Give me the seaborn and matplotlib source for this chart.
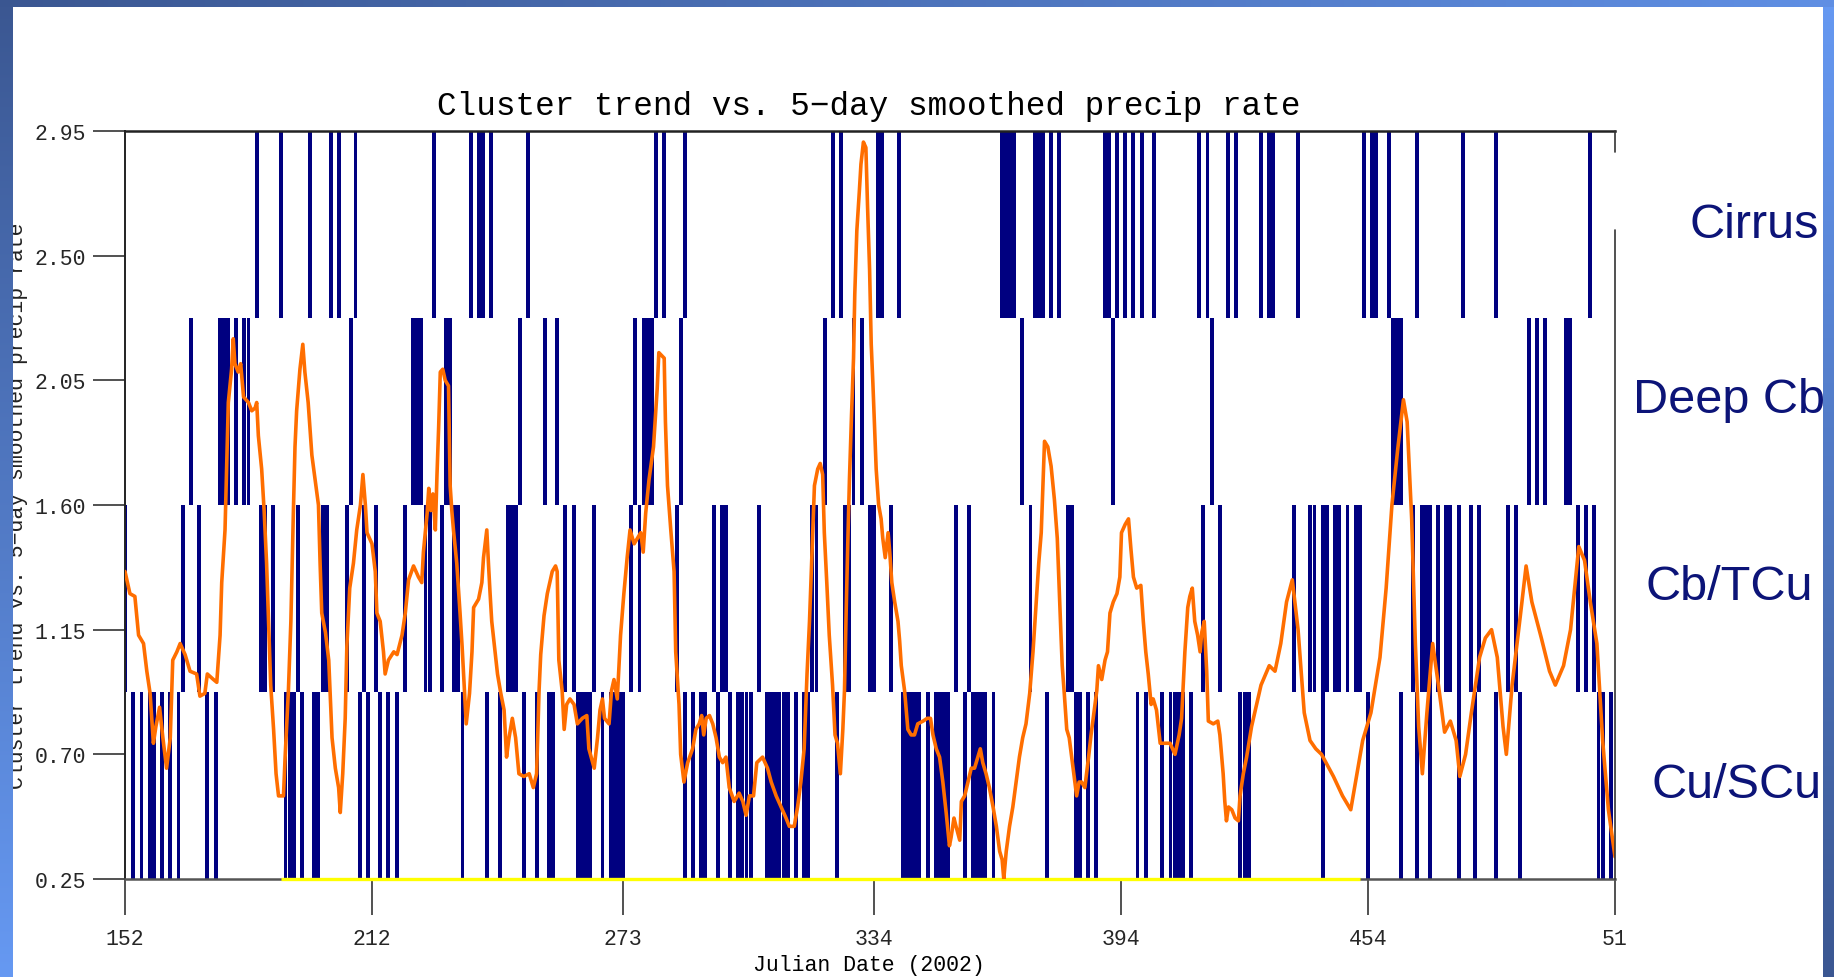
import numpy as np
import pandas as pd
import matplotlib
matplotlib.use("Agg")
import matplotlib.pyplot as plt
import seaborn as sns

# ---------------------------------------------------------------- data
# Day on which each cluster regime was observed (Julian day, continuing past 365)
cu_scu_days = [154, 156, 158, 159, 161, 163, 165, 172, 174, 191, 192, 193, 195,
               198, 199, 209, 211, 214, 216, 218, 234, 240, 243,
               249, 252, 255, 256, 262, 263, 264, 265, 268, 270, 271, 272, 273, 288,
               290, 292, 293, 296, 299, 301, 302, 303, 304, 308, 309, 310, 311, 312,
               313, 315, 317, 318, 325,
               341, 342, 343, 344, 345, 347, 349, 350, 351, 352, 356, 358, 359, 360,
               361, 363, 376,
               383, 384, 386, 388, 398, 400, 404, 406, 407, 408, 409, 411, 423, 424,
               425, 443, 454, 462, 466, 469, 476, 480, 485, 491, 510, 511, 513]
cb_tcu_days = [152, 166, 170, 185, 186, 188, 194,
               200, 201, 206, 210, 213, 220, 225, 226, 229, 232, 233,
               245, 246, 247, 259, 261, 266, 275, 277, 286,
               295, 297, 298, 306, 319, 320, 327, 328,
               333, 334, 338, 354, 357, 372,
               381, 382, 414, 418,
               436, 440, 441, 443, 444, 446, 447, 449, 451, 452,
               465, 467, 468, 469, 471, 473, 474, 476, 479, 481, 488, 490,
               505, 507, 509]
deep_cb_days = [168, 175, 176, 177, 179, 181, 182,
                207, 222, 223, 224, 230, 231,
                248, 254, 257, 276, 278, 279, 280, 287,
                322, 329, 331,
                370, 392, 416,
                460, 461, 462, 493, 495, 497, 502, 503]
cirrus_days = [184, 190, 197, 202, 204, 208, 227, 236, 238, 239, 241,
               250, 281, 283, 288, 324, 326,
               335, 336, 340, 365, 366, 367, 368, 373, 374, 375, 377, 379,
               390, 391, 393, 395, 397, 399, 402, 413, 415, 420, 422,
               428, 430, 431, 437, 453, 455, 456, 459, 466, 477, 485, 508]

cluster_names = ["Cu/SCu", "Cb/TCu", "Deep Cb", "Cirrus"]
band_edges = [0.25, 0.925, 1.60, 2.275, 2.95]

# 5-day smoothed precipitation rate
precip_day = [
    152.0, 153.2, 154.4, 155.3, 156.5, 157.3, 158.1, 158.9, 159.5, 160.4, 161.2, 162.1,
    163.0, 163.6, 164.6, 165.4, 166.6, 167.8, 169.4, 170.2, 171.4, 172.0, 173.5, 174.3,
    175.1, 175.5, 176.3, 176.7, 177.1, 177.9, 178.3, 178.7, 179.5, 180.1, 180.8, 182.0,
    182.8, 183.6, 184.0, 184.4, 185.2, 185.8, 186.4, 186.8, 187.4, 188.1, 188.7, 189.3,
    190.5, 190.9, 191.7, 192.3, 192.9, 193.3, 193.7, 194.5, 195.2, 195.7, 196.5, 197.4,
    198.2, 199.0, 199.4, 199.8, 200.7, 201.5, 201.9, 202.3, 203.1, 203.9, 204.3, 204.9,
    205.5, 205.9, 206.6, 207.5, 208.3, 209.2, 209.8, 210.4, 210.8, 212.0, 212.8, 213.2,
    214.0, 214.8, 215.2, 216.0, 217.3, 218.1, 219.3, 220.1, 220.9, 222.1, 223.3, 224.1,
    224.5, 225.4, 225.8, 226.3, 226.8, 227.4, 227.8, 228.2, 228.6, 229.2, 229.8, 230.6,
    231.0, 231.4, 231.8, 232.6, 233.4, 233.9, 234.4, 234.9, 235.7, 236.3, 236.7, 237.9,
    238.7, 239.1, 239.9, 240.3, 240.7, 241.1,
    242.5, 243.3, 244.1, 244.7, 245.3, 246.1, 246.9, 247.7, 248.9, 250.2, 251.2, 252.0,
    252.6, 253.0, 253.8, 254.6, 255.8, 256.6, 257.0, 257.4, 258.2, 258.7, 259.3, 260.1,
    261.1, 261.9, 263.1, 264.2, 264.7, 266.0, 266.8, 267.4, 268.0, 268.5, 269.6, 270.2,
    270.8, 271.6, 272.4, 273.2, 274.0, 274.7, 275.7, 277.3, 277.9, 278.5, 279.3, 280.4,
    281.3, 281.7, 283.0, 283.3, 283.8, 284.6, 285.4, 285.8, 286.6, 287.0, 287.8,
    288.7, 289.9, 290.7, 291.5, 292.1, 292.6, 293.2, 294.0, 294.8, 295.6, 296.4, 297.2,
    298.0, 298.8, 300.0, 301.2, 302.1, 302.9, 303.7, 304.7, 305.5, 306.9, 308.1, 309.0,
    310.2, 311.4, 312.6, 313.4, 314.6, 315.4, 316.2, 317.0, 317.7, 318.3, 318.7, 319.1,
    319.5, 320.3, 320.9, 321.5, 321.9, 322.5, 323.1, 323.9, 324.5, 325.1, 325.8, 326.4,
    326.8, 327.2, 327.6, 328.0, 328.5, 329.0, 329.3, 329.8, 330.4, 330.8, 331.4, 332.0,
    332.4, 332.9, 333.3, 333.7, 334.1, 334.5, 335.1, 335.7, 336.1, 336.7, 337.4, 337.8,
    338.3, 339.0, 339.8, 340.2, 340.6, 341.4, 342.2, 343.0, 343.8, 344.6, 345.9, 346.9,
    347.7, 348.3, 349.1, 349.9, 350.7, 351.5, 352.3, 352.7, 353.4, 353.9, 354.8, 355.2,
    356.0, 356.8, 357.6, 358.4, 359.2, 359.8, 360.4, 361.2, 362.0, 362.9, 363.7, 364.5,
    365.1, 365.5, 366.1, 366.9, 367.7, 368.5, 369.3, 370.1, 370.9, 371.8, 372.6, 373.4,
    374.0, 374.6, 375.0, 375.4, 376.2, 377.0, 377.8, 378.5,
    378.9, 379.4, 379.7, 380.2, 380.8, 381.4, 382.0, 382.6, 383.2, 383.8, 384.4, 385.2,
    386.1, 386.7, 387.5, 388.1, 388.5, 389.3, 390.1, 390.7, 391.3, 392.1, 393.0, 393.7,
    394.1, 395.0, 395.8, 396.4, 397.0, 397.8, 398.8, 399.4, 400.0, 400.6, 401.3, 401.8,
    402.6, 403.5, 404.7, 405.9, 407.1, 408.1, 408.7, 409.5, 410.2, 410.7, 411.3, 411.9,
    412.6, 413.2, 413.6, 414.2, 414.8, 415.2, 416.4, 417.5, 418.0, 418.8, 419.2, 419.6,
    420.1, 420.9, 421.7, 422.5, 422.9, 423.7, 424.5,
    425.7, 428.0, 430.0, 431.4, 432.8, 434.2, 435.6, 437.0, 438.5, 439.9, 441.3, 442.7,
    445.6, 447.8, 449.8, 451.2, 452.7, 454.7, 456.9, 458.4, 459.8, 461.2, 462.6, 463.5,
    464.6, 465.5, 466.3, 467.2, 468.3, 469.7, 471.1, 472.6, 474.0, 475.4, 476.3, 477.7,
    479.1, 481.1, 482.5, 484.0, 485.4, 486.8, 487.6, 489.0, 491.0, 492.4, 493.8, 496.1,
    498.1, 499.5, 501.5, 503.2, 505.2, 506.6, 508.0, 509.6, 511.0, 512.4, 514.0]
precip_rate = [
    1.36, 1.28, 1.27, 1.13, 1.10, 1.00, 0.92, 0.74, 0.80, 0.87, 0.76, 0.65,
    0.76, 1.04, 1.07, 1.10, 1.06, 1.00, 0.99, 0.91, 0.92, 0.99, 0.97, 0.96,
    1.13, 1.32, 1.51, 1.74, 1.97, 2.09, 2.20, 2.11, 2.08, 2.11, 1.99, 1.97,
    1.94, 1.95, 1.97, 1.85, 1.73, 1.58, 1.39, 1.21, 0.95, 0.79, 0.63, 0.55,
    0.55, 0.69, 0.93, 1.18, 1.57, 1.81, 1.94, 2.09, 2.18, 2.08, 1.97, 1.78,
    1.69, 1.60, 1.39, 1.21, 1.14, 1.04, 0.90, 0.76, 0.65, 0.58, 0.49, 0.63,
    0.83, 1.09, 1.30, 1.39, 1.51, 1.60, 1.71, 1.60, 1.50, 1.46, 1.36, 1.21,
    1.18, 1.07, 0.99, 1.04, 1.07, 1.06, 1.13, 1.21, 1.33, 1.38, 1.34, 1.32,
    1.43, 1.57, 1.66, 1.58, 1.64, 1.51, 1.71, 1.88, 2.08, 2.09, 2.05, 2.03,
    1.67, 1.58, 1.51, 1.39, 1.21, 1.09, 0.95, 0.81, 0.92, 1.07, 1.23, 1.26,
    1.32, 1.41, 1.51, 1.39, 1.28, 1.18,
    0.99, 0.92, 0.86, 0.69, 0.76, 0.83, 0.76, 0.63, 0.62, 0.63, 0.58, 0.63,
    0.93, 1.06, 1.20, 1.28, 1.36, 1.38, 1.36, 1.04, 0.93, 0.79, 0.88, 0.90,
    0.88, 0.81, 0.83, 0.84, 0.72, 0.65, 0.76, 0.86, 0.90, 0.83, 0.81, 0.93,
    0.97, 0.90, 1.13, 1.28, 1.41, 1.51, 1.46, 1.50, 1.43, 1.57, 1.69, 1.81,
    2.02, 2.15, 2.13, 1.90, 1.67, 1.51, 1.36, 1.07, 0.88, 0.70, 0.60,
    0.67, 0.72, 0.79, 0.81, 0.84, 0.77, 0.83, 0.84, 0.81, 0.76, 0.69, 0.67,
    0.69, 0.58, 0.53, 0.56, 0.53, 0.48, 0.55, 0.55, 0.67, 0.69, 0.65, 0.60,
    0.55, 0.51, 0.47, 0.44, 0.44, 0.51, 0.60, 0.72, 0.99, 1.18, 1.34, 1.51,
    1.67, 1.73, 1.75, 1.71, 1.50, 1.32, 1.13, 0.95, 0.77, 0.74, 0.63, 0.79,
    0.93, 1.21, 1.46, 1.69, 1.92, 2.13, 2.36, 2.59, 2.73, 2.83, 2.91, 2.89,
    2.68, 2.45, 2.18, 2.04, 1.88, 1.73, 1.60, 1.55, 1.48, 1.41, 1.50, 1.43,
    1.32, 1.25, 1.18, 1.11, 1.02, 0.93, 0.79, 0.77, 0.77, 0.81, 0.82, 0.83,
    0.83, 0.77, 0.72, 0.69, 0.60, 0.49, 0.37, 0.40, 0.47, 0.44, 0.39, 0.53,
    0.55, 0.60, 0.65, 0.65, 0.69, 0.72, 0.67, 0.63, 0.58, 0.51, 0.44, 0.35,
    0.32, 0.25, 0.35, 0.44, 0.51, 0.60, 0.69, 0.76, 0.81, 0.92, 1.07, 1.25,
    1.39, 1.50, 1.67, 1.83, 1.81, 1.74, 1.62, 1.48,
    1.32, 1.13, 1.02, 0.92, 0.79, 0.76, 0.69, 0.62, 0.55, 0.60, 0.60, 0.58,
    0.69, 0.77, 0.86, 0.93, 1.02, 0.97, 1.04, 1.07, 1.21, 1.25, 1.28, 1.34,
    1.50, 1.53, 1.55, 1.44, 1.34, 1.30, 1.31, 1.18, 1.07, 0.99, 0.88, 0.90,
    0.86, 0.74, 0.74, 0.74, 0.70, 0.77, 0.83, 1.07, 1.23, 1.27, 1.30, 1.18,
    1.13, 1.07, 1.14, 1.18, 1.00, 0.82, 0.81, 0.82, 0.77, 0.63, 0.53, 0.46,
    0.51, 0.50, 0.47, 0.46, 0.55, 0.63, 0.69,
    0.80, 0.95, 1.02, 1.00, 1.10, 1.25, 1.33, 1.15, 0.85, 0.75, 0.72, 0.70,
    0.62, 0.55, 0.50, 0.62, 0.75, 0.85, 1.05, 1.30, 1.60, 1.80, 1.98, 1.90,
    1.55, 1.10, 0.80, 0.63, 0.85, 1.10, 0.95, 0.78, 0.82, 0.75, 0.62, 0.70,
    0.85, 1.05, 1.12, 1.15, 1.05, 0.80, 0.70, 0.95, 1.20, 1.38, 1.25, 1.12,
    1.00, 0.95, 1.02, 1.15, 1.45, 1.40, 1.25, 1.10, 0.75, 0.50, 0.33]

# days flagged along the baseline
baseline_span = [190, 452]

x_ticks = [152, 212, 273, 334, 394, 454, 514]
x_tick_labels = ["152", "212", "273", "334", "394", "454", "51"]
y_ticks = [0.25, 0.70, 1.15, 1.60, 2.05, 2.50, 2.95]
y_tick_labels = ["0.25", "0.70", "1.15", "1.60", "2.05", "2.50", "2.95"]

# ---------------------------------------------------------------- style
NAVY = "#000080"
ORANGE = "#ff6e00"
MONO = ["Liberation Mono", "DejaVu Sans Mono"]

sns.set_style("white")
plt.rcParams["font.family"] = MONO

W, H = 1834, 978
fig = plt.figure(figsize=(W / 100, H / 100), dpi=100)
fig.patch.set_facecolor("white")

L, R, T, B = 125, 1615, 132, 880
ax = fig.add_axes([L / W, 1 - B / H, (R - L) / W, (B - T) / H])
ax.set_facecolor("white")

# cluster regime bars, one band per cluster type
cluster_days = [cu_scu_days, cb_tcu_days, deep_cb_days, cirrus_days]
rows = []
for k, days in enumerate(cluster_days):
    for d in days:
        rows.append({"day": d, "cluster": cluster_names[k]})
clusters = pd.DataFrame(rows)
for k, name in enumerate(cluster_names):
    sub = clusters[clusters["cluster"] == name]
    ax.bar(sub["day"], band_edges[k + 1] - band_edges[k], bottom=band_edges[k],
           width=0.95, color=NAVY, linewidth=0, antialiased=False, zorder=2)

# baseline marker
ax.plot(baseline_span, [band_edges[0], band_edges[0]], color="#ffff00", lw=2.4,
        zorder=4, clip_on=False, solid_capstyle="butt")

# smoothed precipitation rate
precip = pd.DataFrame({"day": precip_day, "rate": precip_rate})
sns.lineplot(data=precip, x="day", y="rate", ax=ax, color=ORANGE, lw=2.6,
             estimator=None, sort=False, zorder=5)

ax.set_xlim(x_ticks[0], x_ticks[-1])
ax.set_ylim(y_ticks[0], y_ticks[-1])
ax.set_xticks(x_ticks)
ax.set_xticklabels(x_tick_labels)
ax.set_yticks(y_ticks)
ax.set_yticklabels(y_tick_labels)
ax.set_xlabel("")
ax.set_ylabel("")
ax.tick_params(axis="y", direction="out", length=23, width=1.1, color="#222222",
               pad=5, labelsize=15.5, left=True)
ax.tick_params(axis="x", direction="out", length=26, width=1.1, color="#222222",
               pad=9, labelsize=15.5, bottom=True)
for lab in ax.get_xticklabels() + ax.get_yticklabels():
    lab.set_fontfamily(MONO)

ax.spines["left"].set_color("#222222")
ax.spines["left"].set_linewidth(1.4)
ax.spines["top"].set_color("#222222")
ax.spines["top"].set_linewidth(1.8)
ax.spines["bottom"].set_color("#555555")
ax.spines["bottom"].set_linewidth(1.8)
ax.spines["right"].set_visible(False)
# right frame edge, interrupted beside the Cirrus label
for y0, y1 in [(0.0, 0.868), (0.9715, 1.0)]:
    ax.plot([1, 1], [y0, y1], transform=ax.transAxes, color="#333333", lw=1.2,
            clip_on=False, zorder=6)

# titles
fig.text(869 / W, 1 - 106 / H, "Cluster trend vs. 5\u2212day smoothed precip rate",
         ha="center", va="center", fontsize=23.5, family=MONO, color="black")
fig.text(869 / W, 1 - 966 / H, "Julian Date (2002)", ha="center", va="center",
         fontsize=15.5, family=MONO, color="black")
fig.text(18 / W, 1 - 506 / H, "Cluster trend vs. 5\u2212day smoothed precip rate",
         ha="center", va="center", rotation=90, fontsize=15.5, family=MONO,
         color="#222222")

# cluster names to the right of the plot
label_pos = {"Cirrus": (1754, 225), "Deep Cb": (1729, 401),
             "Cb/TCu": (1729, 588), "Cu/SCu": (1737, 786)}
for name in cluster_names[::-1]:
    x, y = label_pos[name]
    fig.text(x / W, 1 - y / H, name, ha="center", va="center", fontsize=35,
             family=["Liberation Sans", "DejaVu Sans"], color="#0c1478")

# slide frame: blue gradient bands along the top, left and right edges
c_dark = np.array([0.23, 0.34, 0.57])
c_light = np.array([0.40, 0.60, 0.95])
t = np.linspace(0, 1, W)[None, :, None]
top_band = np.repeat(c_dark + (c_light - c_dark) * t * 0.85, 8, axis=0)
s = np.linspace(0, 1, H)[:, None, None]
left_band = np.repeat(c_dark + (c_light - c_dark) * s, 13, axis=1)
right_band = np.repeat(c_light + (c_dark - c_light) * s, 11, axis=1)
fig.figimage(np.clip(left_band, 0, 1), xo=0, yo=0, origin="upper", zorder=20)
fig.figimage(np.clip(right_band, 0, 1), xo=W - 11, yo=0, origin="upper", zorder=20)
fig.figimage(np.clip(top_band, 0, 1), xo=0, yo=H - 8, origin="upper", zorder=21)

fig.savefig("out.png", dpi=100, facecolor="white")
